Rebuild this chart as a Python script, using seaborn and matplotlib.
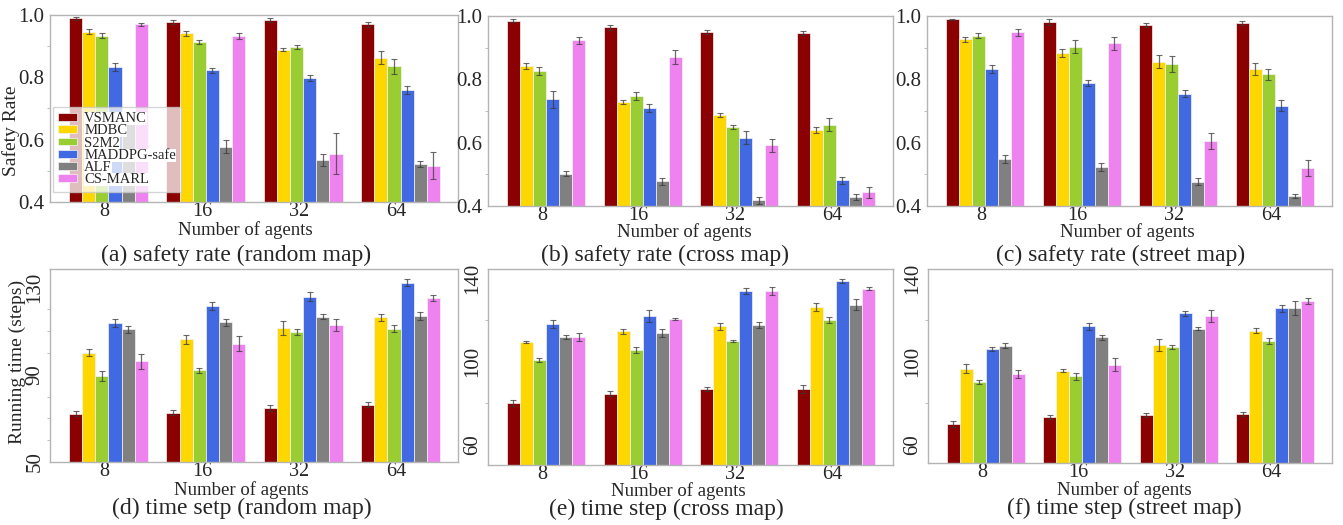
import numpy as np
import pandas as pd
import matplotlib
matplotlib.use("Agg")
import matplotlib.pyplot as plt
from matplotlib.ticker import MultipleLocator
import seaborn as sns

methods = ["VSMANC", "MDBC", "S2M2", "MADDPG-safe", "ALF", "CS-MARL"]
agents = ["8", "16", "32", "64"]
palette = ["#8B0000", "#FFD700", "#9ACD32", "#4169E1", "#808080", "#EE82EE"]

# rows = methods, cols = number of agents
safety_random = [
    [0.989, 0.978, 0.985, 0.971],
    [0.946, 0.941, 0.889, 0.863],
    [0.933, 0.914, 0.897, 0.835],
    [0.832, 0.822, 0.798, 0.760],
    [0.670, 0.578, 0.535, 0.521],
    [0.970, 0.932, 0.555, 0.517],
]
safety_random_err = [
    [0.004, 0.006, 0.006, 0.008],
    [0.008, 0.008, 0.004, 0.020],
    [0.008, 0.007, 0.006, 0.025],
    [0.013, 0.009, 0.010, 0.012],
    [0.007, 0.020, 0.020, 0.010],
    [0.004, 0.010, 0.065, 0.043],
]
safety_cross = [
    [0.985, 0.964, 0.949, 0.946],
    [0.842, 0.728, 0.687, 0.641],
    [0.826, 0.748, 0.650, 0.657],
    [0.737, 0.710, 0.616, 0.481],
    [0.502, 0.478, 0.418, 0.428],
    [0.923, 0.871, 0.592, 0.443],
]
safety_cross_err = [
    [0.004, 0.007, 0.007, 0.006],
    [0.010, 0.007, 0.007, 0.010],
    [0.012, 0.012, 0.006, 0.020],
    [0.026, 0.012, 0.020, 0.012],
    [0.008, 0.012, 0.012, 0.010],
    [0.010, 0.022, 0.020, 0.018],
]
safety_street = [
    [0.989, 0.982, 0.972, 0.977],
    [0.926, 0.883, 0.856, 0.833],
    [0.937, 0.903, 0.848, 0.816],
    [0.832, 0.789, 0.754, 0.717],
    [0.549, 0.523, 0.477, 0.432],
    [0.948, 0.914, 0.605, 0.519],
]
safety_street_err = [
    [0.003, 0.009, 0.007, 0.006],
    [0.007, 0.012, 0.020, 0.020],
    [0.008, 0.020, 0.025, 0.018],
    [0.012, 0.010, 0.011, 0.018],
    [0.012, 0.014, 0.010, 0.006],
    [0.010, 0.020, 0.025, 0.025],
]
time_random = [
    [72.2, 72.6, 74.8, 76.3],
    [100.2, 106.2, 111.5, 116.3],
    [89.4, 92.0, 109.7, 111.2],
    [113.7, 121.5, 125.8, 132.3],
    [110.8, 114.0, 116.6, 116.9],
    [96.2, 104.3, 112.8, 125.1],
]
time_random_err = [
    [1.2, 1.2, 1.3, 1.3],
    [1.8, 2.0, 3.2, 1.5],
    [2.2, 1.3, 1.5, 1.5],
    [1.8, 1.8, 2.2, 1.8],
    [1.5, 1.5, 1.2, 1.8],
    [3.5, 3.5, 2.8, 1.3],
]
time_cross = [
    [79.8, 84.4, 86.6, 86.6],
    [109.2, 114.4, 116.8, 126.3],
    [100.6, 105.6, 109.8, 119.8],
    [117.9, 121.9, 134.0, 138.9],
    [111.6, 113.7, 117.4, 127.3],
    [111.8, 120.5, 134.0, 135.0],
]
time_cross_err = [
    [1.5, 1.2, 0.8, 2.0],
    [0.6, 1.0, 1.5, 2.0],
    [1.0, 1.5, 0.7, 1.5],
    [1.8, 3.0, 1.5, 1.0],
    [1.0, 1.8, 1.5, 2.7],
    [1.8, 0.4, 1.8, 0.8],
]
time_street = [
    [69.8, 73.1, 74.0, 74.7],
    [96.5, 95.5, 107.9, 114.8],
    [90.2, 92.7, 106.9, 109.7],
    [105.8, 116.8, 123.1, 125.5],
    [107.6, 111.6, 115.8, 125.8],
    [93.9, 98.4, 121.8, 129.0],
]
time_street_err = [
    [1.3, 0.9, 0.9, 0.9],
    [2.2, 0.7, 3.0, 1.2],
    [0.9, 1.8, 0.8, 1.5],
    [0.9, 1.6, 1.2, 1.8],
    [1.0, 1.2, 0.9, 3.5],
    [2.0, 3.2, 2.7, 1.6],
]

safety_ticks = ["0.4", "0.6", "0.8", "1.0"]
time_random_ticks = ["50", "90", "130"]
time_map_ticks = ["60", "100", "140"]

sns.set_style("white")
plt.rcParams["font.family"] = ["Liberation Serif", "DejaVu Serif"]

W, H = 1343, 525
fig = plt.figure(figsize=(W / 100, H / 100), dpi=100)


def px_axes(x0, x1, y0, y1):
    return fig.add_axes([x0 / W, 1 - y1 / H, (x1 - x0) / W, (y1 - y0) / H])


panels = [
    # vals, errs, rect(px), ylim, ticks, minor, caption, rotate,
    # (xlabel x, caption x), (xlabel y px, caption y px)
    (safety_random, safety_random_err, (50, 458, 15, 202), (0.4, 1.0), safety_ticks, 0.1,
     "(a) safety rate (random map)", False, (0.478, 0.456), (230, 255)),
    (safety_cross, safety_cross_err, (488, 893, 16, 206), (0.4, 1.0), safety_ticks, 0.1,
     "(b) safety rate (cross map)", False, (0.485, 0.437), (232, 255)),
    (safety_street, safety_street_err, (927, 1332, 16, 206), (0.4, 1.0), safety_ticks, 0.1,
     "(c) safety rate (street map)", False, (0.494, 0.479), (232, 255)),
    (time_random, time_random_err, (50, 458, 269, 462), (50, 138.5), time_random_ticks, 10,
     "(d) time setp (random map)", True, (0.468, 0.47), (490, 508)),
    (time_cross, time_cross_err, (488, 893, 269, 465), (50, 144.5), time_map_ticks, 20,
     "(e) time step (cross map)", True, (0.47, 0.44), (491, 509)),
    (time_street, time_street_err, (928, 1332, 269, 463), (51, 144.5), time_map_ticks, 20,
     "(f) time step (street map)", True, (0.485, 0.485), (490, 508)),
]

spine_col = "#b4b4b4"

for i, (vals, errs, rect, ylim, ticks, minor, caption, rot, tx, ty) in enumerate(panels):
    ax = px_axes(*rect)
    df = pd.DataFrame(
        [(m, a, vals[r][c]) for r, m in enumerate(methods) for c, a in enumerate(agents)],
        columns=["method", "agents", "value"],
    )
    sns.barplot(
        data=df, x="agents", y="value", hue="method", order=agents,
        hue_order=methods, palette=palette, saturation=1, width=0.81, errorbar=None,
        edgecolor="#f4f4f4", linewidth=0.5, ax=ax, legend=(i == 0),
    )
    # error bars from the bar positions drawn by seaborn
    bar_conts = list(ax.containers)
    for r, cont in enumerate(bar_conts):
        xs = [p.get_x() + p.get_width() / 2 for p in cont]
        ax.errorbar(xs, vals[r], yerr=errs[r], fmt="none", ecolor="#3a3a3a",
                    alpha=0.75, elinewidth=0.9, capsize=2.2, capthick=0.8, zorder=3)

    ax.set_ylim(*ylim)
    ax.set_xlim(-0.6, 3.59)
    ax.set_xticks(np.arange(len(agents)) - 0.04)
    ax.set_xticklabels(agents)
    ax.set_yticks([float(t) for t in ticks])
    ax.set_yticklabels(ticks)
    ax.yaxis.set_minor_locator(MultipleLocator(minor))
    if rot:
        for lab in ax.get_yticklabels():
            lab.set_rotation(90)
            lab.set_va("center")
    ax.tick_params(axis="x", length=0, labelsize=14.5, pad=0)
    ax.tick_params(axis="y", which="major", length=3, color=spine_col, labelsize=15, pad=1)
    ax.tick_params(axis="y", which="minor", left=True, length=2, color=spine_col)
    for s in ax.spines.values():
        s.set_color(spine_col)
        s.set_linewidth(1.0)

    h = rect[3] - rect[2]
    w = rect[1] - rect[0]
    ax.set_xlabel("Number of agents", fontsize=13.5)
    ax.xaxis.label.set_va("center")
    ax.xaxis.set_label_coords(tx[0], -(ty[0] - rect[3]) / h)
    ax.text(tx[1], -(ty[1] - rect[3]) / h, caption, transform=ax.transAxes,
            ha="center", va="center", fontsize=17)

    if i == 0:
        ax.set_ylabel("Safety Rate", fontsize=14)
        ax.yaxis.set_label_coords(-30 / w, 0.38)
    elif i == 3:
        ax.set_ylabel("Running time (steps)", fontsize=14)
        ax.yaxis.set_label_coords(-24 / w, 0.52)
    else:
        ax.set_ylabel("")

    if i == 0:
        leg = ax.legend(
            loc="lower left", bbox_to_anchor=(0.0, 0.04), fontsize=10.5,
            labelspacing=-0.05, handlelength=1.3, handleheight=0.45,
            handletextpad=0.5, borderpad=0.35, borderaxespad=0.2,
            frameon=True, framealpha=0.75, edgecolor="#c8c8c8", fancybox=False,
            title=None,
        )
        for t in leg.get_texts():
            t.set_bbox(dict(facecolor="white", edgecolor="none", pad=0.0))

fig.savefig("out.png", dpi=100)
